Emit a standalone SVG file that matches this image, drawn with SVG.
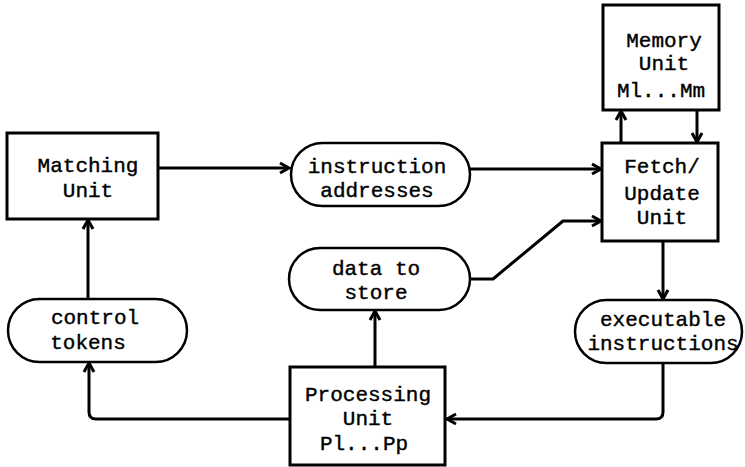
<svg xmlns="http://www.w3.org/2000/svg" width="745" height="467" viewBox="0 0 745 467">
<style>
.box{fill:#fff;stroke:#000;stroke-width:3}
.pill{fill:#fff;stroke:#000;stroke-width:2.5}
.t{font-family:"Liberation Mono","Courier New",monospace;font-size:21px;fill:#000;stroke:#000;stroke-width:0.4;text-anchor:middle}
.c{fill:none;stroke:#000;stroke-width:3;stroke-linejoin:round}
</style>
<defs>
<marker id="ah" markerUnits="userSpaceOnUse" markerWidth="14" markerHeight="14" refX="11" refY="6" orient="auto" viewBox="0 0 14 12">
<path d="M2,1 L11,6 L2,11" fill="none" stroke="#000" stroke-width="3"/>
</marker>
</defs>
<rect width="745" height="467" fill="#fff"/>
<g id="connectors">
<path class="c" d="M158,168 L289,168" marker-end="url(#ah)"/>
<path class="c" d="M470,169 L601,169" marker-end="url(#ah)"/>
<path class="c" d="M621,143 L621,111" marker-end="url(#ah)"/>
<path class="c" d="M697,110 L697,142" marker-end="url(#ah)"/>
<path class="c" d="M663,241 L663,299" marker-end="url(#ah)"/>
<path class="c" d="M663,363 L663,412 Q663,419 656,419 L447,419" marker-end="url(#ah)"/>
<path class="c" d="M375,367 L375,311" marker-end="url(#ah)"/>
<path class="c" d="M470,279 L493,279 L563,221 L601,221" marker-end="url(#ah)"/>
<path class="c" d="M290,419 L96,419 Q89,419 89,412 L89,363" marker-end="url(#ah)"/>
<path class="c" d="M88,299 L88,220" marker-end="url(#ah)"/>
</g>
<g id="matching">
<rect class="box" x="7" y="133" width="151" height="86"/>
<text class="t" x="88" y="172">Matching</text>
<text class="t" x="88" y="197">Unit</text>
</g>
<g id="instr-addr">
<rect class="pill" x="291" y="143" width="179" height="63" rx="31.5"/>
<text class="t" x="377" y="173">instruction</text>
<text class="t" x="377" y="197">addresses</text>
</g>
<g id="memory">
<rect class="box" x="603" y="5" width="116" height="105"/>
<text class="t" x="664" y="47">Memory</text>
<text class="t" x="664" y="70">Unit</text>
<text class="t" x="661" y="97">Ml...Mm</text>
</g>
<g id="fetch">
<rect class="box" x="602" y="143" width="116" height="98"/>
<text class="t" x="662" y="173">Fetch/</text>
<text class="t" x="662" y="200">Update</text>
<text class="t" x="662" y="224">Unit</text>
</g>
<g id="exec">
<rect class="pill" x="575" y="300" width="167" height="63" rx="31.5"/>
<text class="t" x="663" y="326">executable</text>
<text class="t" x="663" y="350">instructions</text>
</g>
<g id="data-store">
<rect class="pill" x="289" y="248" width="181" height="62" rx="31"/>
<text class="t" x="376" y="275">data to</text>
<text class="t" x="376" y="299">store</text>
</g>
<g id="control">
<rect class="pill" x="8" y="299" width="179" height="63" rx="31.5"/>
<text class="t" x="95" y="324">control</text>
<text class="t" x="88" y="349">tokens</text>
</g>
<g id="processing">
<rect class="box" x="290" y="367" width="155" height="98"/>
<text class="t" x="368" y="401">Processing</text>
<text class="t" x="368" y="425">Unit</text>
<text class="t" x="364" y="450">Pl...Pp</text>
</g>
</svg>
